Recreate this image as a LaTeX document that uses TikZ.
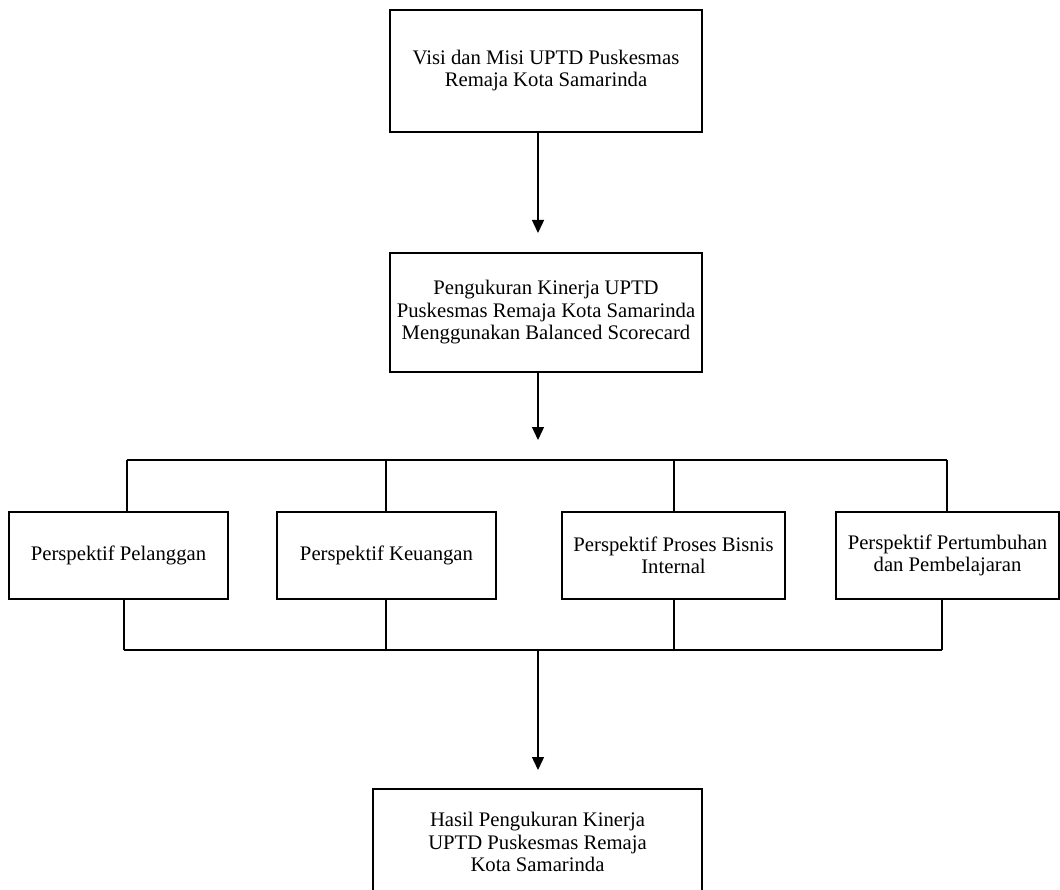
\documentclass[tikz,border=0pt]{standalone}
\usepackage{fontspec}
\setmainfont{Liberation Serif}
\usetikzlibrary{arrows.meta}
\begin{document}
\begin{tikzpicture}[x=1pt,y=-1pt,
  box/.style={draw, line width=1.4pt, align=center, inner sep=0pt, font=\fontsize{20.7}{22.5}\selectfont},
  conn/.style={line width=1.4pt},
  arr/.style={line width=1.4pt, -{Triangle[width=12pt,length=13pt]}}]
\useasboundingbox (0,0) rectangle (1060,890);
\clip (0,0) rectangle (1060,890);
% boxes
\node[box, minimum width=312pt, minimum height=122pt] (v) at (546,71) {\raisebox{-3pt}{\begin{tabular}{@{}c@{}}Visi dan Misi UPTD Puskesmas\\Remaja Kota Samarinda\end{tabular}}};
\node[box, minimum width=312pt, minimum height=119pt] (p) at (546,312.5) {Pengukuran Kinerja UPTD\\Puskesmas Remaja Kota Samarinda\\Menggunakan Balanced Scorecard};
\node[box, minimum width=219pt, minimum height=87pt] (pa) at (118.5,555.5) {Perspektif Pelanggan};
\node[box, minimum width=219pt, minimum height=87pt] (pb) at (386.5,555.5) {Perspektif Keuangan};
\node[box, minimum width=223pt, minimum height=87pt] (pc) at (673.5,555.5) {Perspektif Proses Bisnis\\Internal};
\node[box, minimum width=223pt, minimum height=87pt] (pd) at (947.5,555.5) {Perspektif Pertumbuhan\\dan Pembelajaran};
\node[box, minimum width=329pt, minimum height=106pt] (h) at (537.5,842) {Hasil Pengukuran Kinerja\\UPTD Puskesmas Remaja\\Kota Samarinda};
% coordinates
\coordinate (a1) at (538,233);
\coordinate (a2) at (538,440);
\coordinate (t1) at (127,460);
\coordinate (t2) at (386,460);
\coordinate (t3) at (674,460);
\coordinate (t4) at (947,460);
\coordinate (b1) at (124,650);
\coordinate (b2) at (386,650);
\coordinate (b3) at (674,650);
\coordinate (b4) at (942,650);
\coordinate (bm) at (538,650);
\coordinate (a3) at (538,770);
% connectors
\draw[arr] (v.south -| a1) -- (a1);
\draw[arr] (p.south -| a2) -- (a2);
\draw[conn] (t1) -- (t4);
\draw[conn] (t1) -- (t1 |- pa.north);
\draw[conn] (t2) -- (t2 |- pb.north);
\draw[conn] (t3) -- (t3 |- pc.north);
\draw[conn] (t4) -- (t4 |- pd.north);
\draw[conn] (b1) -- (b4);
\draw[conn] (b1) -- (b1 |- pa.south);
\draw[conn] (b2) -- (b2 |- pb.south);
\draw[conn] (b3) -- (b3 |- pc.south);
\draw[conn] (b4) -- (b4 |- pd.south);
\draw[arr] (bm) -- (a3);
\end{tikzpicture}
\end{document}
